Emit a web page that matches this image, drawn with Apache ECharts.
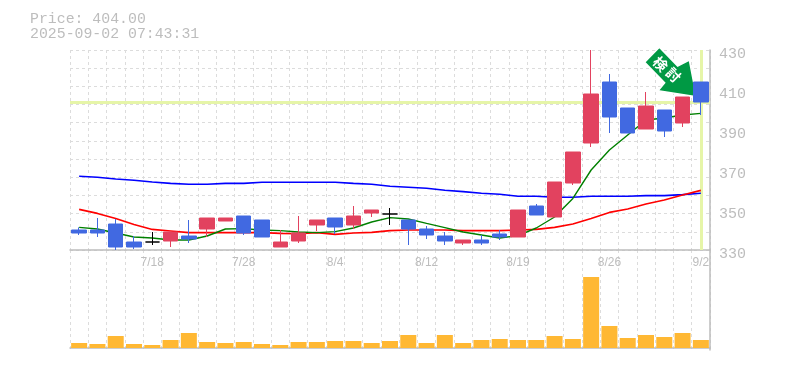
<!DOCTYPE html>
<html>
<head>
<meta charset="utf-8">
<style>
	html, body { margin: 0; padding: 0; background: #fff; }
	#chart { width: 785px; height: 370px; }
</style>
<script src="https://cdn.jsdelivr.net/npm/echarts@6/dist/echarts.min.js"></script>
</head>
<body>
<div id="chart"></div>
<script>
const dates = [
	'7/14', '7/15', '7/16', '7/17', '7/18', '7/22', '7/23', '7/24', '7/25', '7/28',
	'7/29', '7/30', '7/31', '8/1', '8/4', '8/5', '8/6', '8/7', '8/8', '8/12',
	'8/13', '8/14', '8/15', '8/18', '8/19', '8/20', '8/21', '8/22', '8/25', '8/26',
	'8/27', '8/28', '8/29', '9/1', '9/2'
];
const tickLabels = [ '7/18', '7/28', '8/4', '8/12', '8/19', '8/26', '9/2' ];
const priceTicks = [ 330, 350, 370, 390, 410, 430 ];

const opens = [
	340, 340, 343, 334, 334, 334.5, 337, 340.5, 344.5, 347,
	345, 331.5, 334.5, 342.5, 346, 342.5, 348.5, 348, 345, 340.5,
	337, 333.5, 335, 338, 336.5, 352, 346.5, 363.5, 383.5, 414,
	401, 390.5, 400, 393.5, 414
];
const closes = [
	338.5, 338.5, 331.5, 331.5, 334, 339, 335.5, 346, 346, 338.5,
	336.5, 334, 338.5, 345, 341.5, 347, 350, 348, 340.5, 337.5,
	334.5, 335, 333.5, 336.5, 350, 347.5, 364, 379, 408, 396.5,
	388.5, 402, 389.5, 406.5, 404
];
const lows = [
	337.5, 336.5, 330, 330.5, 332.5, 331.5, 333.5, 336.5, 344.5, 337.5,
	336.5, 331.5, 333.5, 339.5, 338, 340.5, 346.5, 342.5, 332.5, 335.5,
	332.5, 332.5, 332.5, 335, 336.5, 347.5, 346.5, 362.5, 381.5, 388.5,
	388.5, 390.5, 386.5, 391.5, 397.5
];
const highs = [
	341.3, 346, 345.5, 337, 339, 339, 345, 346, 346, 347,
	345, 340, 347, 345, 346, 352, 350, 351, 345, 342,
	339, 335, 337.5, 340, 350, 353, 364, 379, 430, 418,
	401, 409, 400, 406.5, 414
];
const volumes = [
	5, 4, 12, 4, 3, 8, 15, 6, 5, 6,
	4, 3, 6, 6, 7, 7, 5, 7, 13, 5,
	13, 5, 8, 9, 8, 8, 12, 9, 71, 22,
	10, 13, 11, 15, 8
];
const ma5 = [
	341.3, 340.5, 338.5, 336.5, 336, 335, 335, 337, 340.5, 340.7,
	340, 339.7, 339, 338.7, 339.2, 341, 344, 346.2, 345.5, 343.3,
	341.2, 339, 337.5, 336, 337.2, 341, 346.5, 355.8, 370, 380,
	387.5, 395, 396, 397.5, 398.3
];
const ma25 = [
	350.3, 348.3, 345.8, 342.8, 340.3, 339.5, 338.7, 338.7, 338.7, 338.7,
	338.7, 338.3, 338.2, 338.7, 337.8, 338.5, 338.8, 339.7, 340, 340,
	340, 339.7, 339.7, 339.7, 340, 340.3, 341.3, 343, 345.8, 348.8,
	350.5, 353, 355, 357.5, 359.8
];
const ma75 = [
	366.9, 366.4, 365.5, 364.9, 364, 363.3, 362.9, 362.9, 363.3, 363.3,
	363.9, 363.9, 363.9, 363.9, 363.9, 363.3, 362.9, 361.9, 361.4, 360.9,
	359.9, 359.2, 358.4, 357.9, 356.9, 356.9, 356.4, 356.4, 356.9, 356.9,
	356.9, 357.2, 357.2, 357.7, 358.4
];
const lastPrice = 404;
const lastStamp = '2025-09-02 07:43:31';

const GREY = '#bdbdbd';
const GRID = '#dcdcdc';
const MONO = '"Liberation Mono", monospace';

const candles = dates.map( ( d, i ) => {
	const item = { value: [ opens[ i ], closes[ i ], lows[ i ], highs[ i ] ] };
	// open == close is drawn as a black cross
	if ( opens[ i ] === closes[ i ] ) {
		item.itemStyle = { color: '#000', color0: '#000', borderColor: '#000', borderColor0: '#000' };
	}
	return item;
} );

const vLines = { show: true, interval: 0, lineStyle: { color: GRID, type: [ 3, 3 ], width: 1 } };

const lineSeries = ( data, color, width ) => ( {
	type: 'line',
	data,
	symbol: 'none',
	z: 3,
	silent: true,
	lineStyle: { color, width }
} );

const chart = echarts.init( document.getElementById( 'chart' ), null, { renderer: 'canvas' } );

chart.setOption( {
	animation: false,
	backgroundColor: '#fff',
	title: {
		left: 25,
		top: 7,
		text: 'Price: ' + lastPrice.toFixed( 2 ) + '\n' + lastStamp,
		textStyle: { fontFamily: MONO, fontSize: 14.85, fontWeight: 'normal', color: GREY, lineHeight: 15 }
	},
	grid: [
		{ left: 70, top: 50, width: 640, height: 200 },
		{ left: 70, top: 250, width: 640, height: 100 }
	],
	xAxis: [
		{
			type: 'category',
			gridIndex: 0,
			data: dates,
			axisTick: { show: false },
			axisLine: { lineStyle: { color: GREY, width: 1.5 } },
			axisLabel: {
				interval: ( i, v ) => tickLabels.includes( v ),
				color: GREY,
				fontFamily: '"Liberation Sans"',
				fontSize: 12,
				margin: 7,
				hideOverlap: false
			},
			splitLine: vLines
		},
		{
			type: 'category',
			gridIndex: 1,
			data: dates,
			axisTick: { show: false },
			axisLabel: { show: false },
			axisLine: { lineStyle: { color: GREY, width: 1.5 } },
			splitLine: vLines
		}
	],
	yAxis: [
		{
			type: 'value',
			gridIndex: 0,
			position: 'right',
			min: priceTicks[ 0 ],
			max: priceTicks[ priceTicks.length - 1 ],
			interval: 20,
			axisTick: { show: false },
			axisLine: { show: true, lineStyle: { color: GREY, width: 1.5 } },
			// labels sit a few px under their tick in the original
			axisLabel: { color: GREY, fontFamily: MONO, fontSize: 15, margin: 9, verticalAlign: 'top', lineHeight: 8 },
			splitLine: { show: false }
		},
		{
			// only carries the 11 horizontal dashed rows
			type: 'value',
			gridIndex: 0,
			position: 'left',
			min: 0,
			max: 11,
			interval: 1,
			axisLine: { show: false },
			axisTick: { show: false },
			axisLabel: { show: false },
			splitLine: { show: true, lineStyle: { color: GRID, type: [ 3, 3 ], width: 1 } }
		},
		{
			type: 'value',
			gridIndex: 1,
			position: 'right',
			min: -2,
			max: 98,
			axisTick: { show: false },
			axisLabel: { show: false },
			axisLine: { show: true, onZero: false, lineStyle: { color: GREY, width: 1.5 } },
			splitLine: { show: false }
		}
	],
	series: [
		lineSeries( ma75, '#0000ff', 1.6 ),
		lineSeries( ma25, '#ff0000', 1.6 ),
		lineSeries( ma5, '#008000', 1.4 ),
		{
			type: 'candlestick',
			data: candles,
			barWidth: 15,
			z: 4,
			silent: true,
			itemStyle: {
				color: '#e2425f',
				color0: '#4169e1',
				borderColor: '#e2425f',
				borderColor0: '#4169e1',
				borderWidth: 1
			},
			markLine: {
				silent: true,
				symbol: 'none',
				label: { show: false },
				z: 2,
				lineStyle: { color: '#e6f5a8', type: 'solid', width: 3 },
				data: [
					{ yAxis: lastPrice },
					{ xAxis: dates[ dates.length - 1 ] }
				]
			}
		},
		{
			type: 'bar',
			xAxisIndex: 1,
			yAxisIndex: 2,
			data: volumes,
			barWidth: 16,
			silent: true,
			itemStyle: { color: '#ffb833' }
		}
	]
} );

// signal arrow, hung on the latest price point
const anchor = chart.convertToPixel( { xAxisIndex: 0, yAxisIndex: 0 }, [ dates.length - 1, lastPrice ] );
const arrowShape = [
	[ -41.5, -54.7 ], [ -56.2, -39.7 ], [ -36.2, -19.3 ], [ -42.8, -11.3 ],
	[ -4.5, -5.3 ], [ -11.5, -42 ], [ -23.2, -36 ]
];
const glyph = ( text, x, y ) => ( {
	type: 'text',
	x,
	y,
	rotation: -Math.PI / 4,
	style: {
		text,
		fill: '#fff',
		font: 'bold 14px "Noto Sans CJK JP"',
		align: 'center',
		verticalAlign: 'middle'
	}
} );
chart.setOption( {
	graphic: [ {
		type: 'group',
		x: anchor[ 0 ],
		y: anchor[ 1 ],
		z: 100,
		children: [
			{
				type: 'polygon',
				shape: { points: arrowShape },
				style: { fill: '#009944', stroke: '#fff', lineWidth: 1.5 }
			},
			glyph( '検', -40.5, -38 ),
			glyph( '討', -27.5, -27 )
		]
	} ]
} );
</script>
</body>
</html>
